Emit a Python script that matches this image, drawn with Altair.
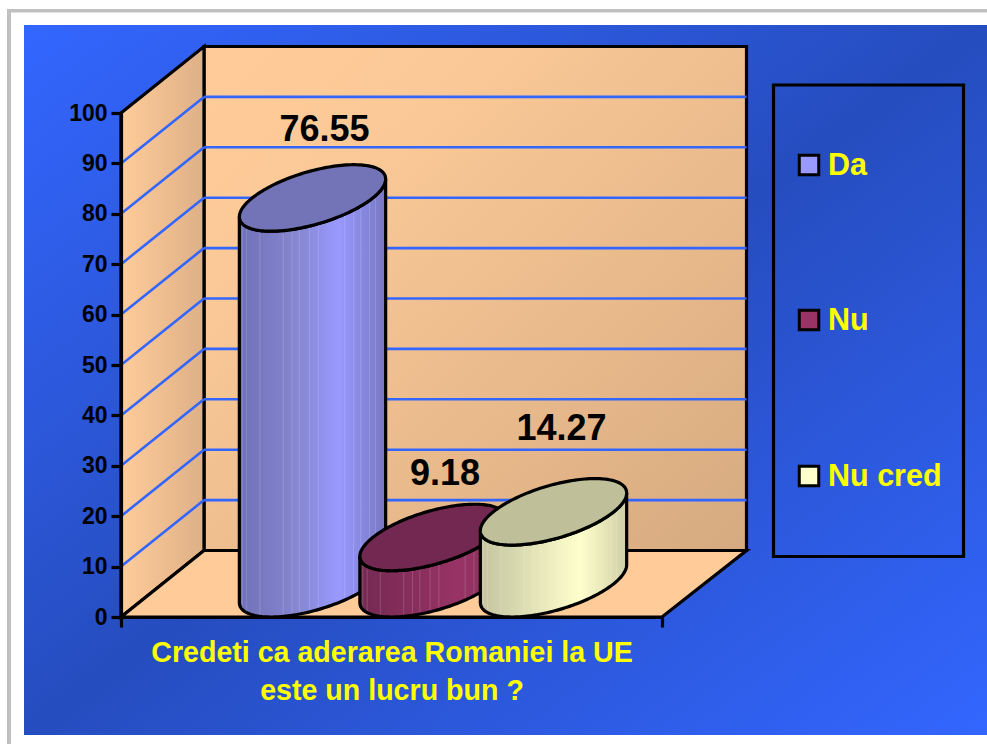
import numpy as np
import pandas as pd
import altair as alt

# Survey answers
categories = ["Da", "Nu", "Nu cred"]
values = [76.55, 9.18, 14.27]
value_labels = ["76.55", "9.18", "14.27"]
axis_title = ["Credeti ca aderarea Romaniei la UE", "este un lucru bun ?"]
y_ticks = list(range(0, 101, 10))

# Cylinder shading: cap colour, side gradient stops
cap_colors = ["#7373b8", "#722850", "#bfbf99"]
side_dark = ["#7171b8", "#742a52", "#c4c4a0"]
side_mid = ["#8585d0", "#882e5d", "#e4e4b8"]
side_light = ["#9999ff", "#993366", "#ffffcc"]
side_end = ["#7777c2", "#80305a", "#cfcfa6"]
swatch_colors = ["#9999ff", "#993366", "#ffffcc"]

# Facet seams on the cylinder sides, as fractions of the width
seams = [0.02, 0.05, 0.14, 0.30, 0.36, 0.41, 0.48, 0.54, 0.72, 0.78, 0.83, 0.89, 0.93]

# Label placement relative to each cylinder
label_shift_x = [12, 12, 8]
label_lift = [20.05, 19.2, 23.0]

# Plot geometry: the x scale is in pixels, the y scale in percent
PLOT_W, PLOT_H = 541, 504
LEFT, TOP = 121, 113
PX_PER_PCT = PLOT_H / 100
DEPTH_LEFT = 83
DEPTH_RIGHT = 84.5
DEPTH_Y = 66.5 / PX_PER_PCT
BAR_W = 120.5
STROKE = 3.2
FONT = "Liberation Sans"


def fx(px):
    return px - LEFT


def fy(py):
    return (TOP + PLOT_H - py) / PX_PER_PCT


x_scale = alt.Scale(domain=[0, PLOT_W], nice=False, zero=False)
y_scale = alt.Scale(domain=[0, 100], nice=False, zero=False)
x_axis = alt.Axis(
    values=[0, PLOT_W], labels=False, grid=False, zindex=1,
    domainColor="black", domainWidth=STROKE, tickColor="black",
    tickWidth=STROKE, tickSize=10, title=axis_title,
    titleColor="#ffff00", titleFont=FONT, titleFontSize=28.6,
    titleFontWeight="bold", titleLineHeight=38, titlePadding=10,
)
y_axis = alt.Axis(
    values=y_ticks, grid=False, zindex=1, title=None,
    domainColor="black", domainWidth=STROKE, tickColor="black",
    tickWidth=STROKE, tickSize=10, labelColor="black",
    labelFont=FONT, labelFontSize=23, labelFontWeight="bold",
    labelPadding=4,
)
X = alt.X("x:Q", scale=x_scale, axis=x_axis)
Y = alt.Y("y:Q", scale=y_scale, axis=y_axis)


def gradient(stops, x1=0, y1=0, x2=1, y2=0):
    return alt.Gradient(
        gradient="linear",
        stops=[alt.GradientStop(color=c, offset=o) for o, c in stops],
        x1=x1, y1=y1, x2=x2, y2=y2,
    )


def box(x0, x1, y0, y1):
    return pd.DataFrame({"x": [x0], "x1": [x1], "y": [y0], "y1": [y1]})


def rect_layer(frame, **mark):
    return alt.Chart(frame).mark_rect(**mark).encode(
        x=X, x2=alt.X2("x1:Q"), y=Y, y2=alt.Y2("y1:Q")
    )


def area_layer(frame, **mark):
    return alt.Chart(frame).mark_area(interpolate="linear", **mark).encode(
        x=X, y=Y, y2=alt.Y2("y1:Q")
    )


layers = []

# Slide background
layers.append(
    rect_layer(
        box(fx(24), fx(987), fy(25), fy(735)),
        fill=gradient([(0, "#3366ff"), (0.5, "#264dbf"), (1, "#3366ff")], 0, 0, 1, 1),
    )
)

# Slide frame
layers.append(rect_layer(box(fx(7), fx(11), fy(9), fy(744)), fill="#c0c0c0"))
layers.append(rect_layer(box(fx(7), fx(987), fy(9), fy(12.5)), fill="#c0c0c0"))

# Back wall
layers.append(
    rect_layer(
        box(DEPTH_LEFT, PLOT_W + DEPTH_RIGHT, DEPTH_Y, 100 + DEPTH_Y),
        fill=gradient([(0, "#ffcc99"), (0.25, "#fbc997"), (1, "#d6aa80")], 0, 0, 1, 1),
        stroke="black",
        strokeWidth=STROKE,
    )
)

# Side wall
side_wall = pd.DataFrame(
    {"x": [0, DEPTH_LEFT], "y": [100, 100 + DEPTH_Y], "y1": [0, DEPTH_Y]}
)
layers.append(
    area_layer(
        side_wall,
        fill=gradient([(0, "#ffcc99"), (1, "#deb087")]),
        stroke="black",
        strokeWidth=STROKE,
    )
)

# Floor
floor = pd.DataFrame(
    {
        "x": [0, DEPTH_LEFT, PLOT_W, PLOT_W + DEPTH_RIGHT],
        "y": [0, DEPTH_Y, DEPTH_Y, DEPTH_Y],
        "y1": [0, 0, 0, DEPTH_Y],
    }
)
layers.append(area_layer(floor, fill="#ffcc99", stroke="black", strokeWidth=STROKE))

# Gridlines on the back and side walls
grid_ticks = [t for t in y_ticks if 0 < t < 100]
grid_back = pd.DataFrame(
    {
        "x": [DEPTH_LEFT] * len(grid_ticks),
        "x1": [PLOT_W + DEPTH_RIGHT] * len(grid_ticks),
        "y": [t + DEPTH_Y for t in grid_ticks],
        "y1": [t + DEPTH_Y for t in grid_ticks],
    }
)
grid_side = pd.DataFrame(
    {
        "x": [0] * len(grid_ticks),
        "x1": [DEPTH_LEFT] * len(grid_ticks),
        "y": list(grid_ticks),
        "y1": [t + DEPTH_Y for t in grid_ticks],
    }
)
for frame in (grid_back, grid_side):
    layers.append(
        alt.Chart(frame)
        .mark_rule(color="#3366ff", strokeWidth=2.6)
        .encode(x=X, x2=alt.X2("x1:Q"), y=Y, y2=alt.Y2("y1:Q"))
    )

# Cylinders: the base circle is sheared along the floor's depth direction
SHEAR = 41.5
A = BAR_W / 2
R = np.hypot(A, SHEAR)
grid_t = np.linspace(np.pi, 0, 90)

for i, value in enumerate(values):
    center = PLOT_W / 2 + (i - 1) * BAR_W + SHEAR
    xs = center + R * np.cos(grid_t)
    dx = xs - center
    root = A * np.sqrt(np.clip(R**2 - dx**2, 0, None))
    s_back = (dx * SHEAR + root) / R**2
    s_front = (dx * SHEAR - root) / R**2
    mid = DEPTH_Y / 2
    body = pd.DataFrame(
        {"x": xs, "y": value + mid + mid * s_front, "y1": mid + mid * s_front}
    )
    cap = pd.DataFrame(
        {"x": xs, "y": value + mid + mid * s_back, "y1": value + mid + mid * s_front}
    )
    layers.append(
        area_layer(
            body,
            fill=gradient(
                [
                    (0, side_dark[i]),
                    (0.38, side_mid[i]),
                    (0.68, side_light[i]),
                    (1, side_end[i]),
                ]
            ),
        )
    )
    seam_x = xs[0] + np.array(seams) * (xs[-1] - xs[0])
    seam_low = np.interp(seam_x, xs, mid + mid * s_front)
    seam_frame = pd.DataFrame({"x": seam_x, "y": seam_low + value, "y1": seam_low})
    layers.append(
        alt.Chart(seam_frame)
        .mark_rule(color="white", strokeWidth=1, opacity=0.16)
        .encode(x=X, y=Y, y2=alt.Y2("y1:Q"))
    )
    layers.append(area_layer(body, fillOpacity=0, stroke="black", strokeWidth=STROKE))
    layers.append(
        area_layer(cap, fill=cap_colors[i], stroke="black", strokeWidth=STROKE)
    )

# Value labels
labels = pd.DataFrame(
    {
        "x": [
            PLOT_W / 2 + (i - 1) * BAR_W + SHEAR + label_shift_x[i]
            for i in range(len(values))
        ],
        "y": [v + lift for v, lift in zip(values, label_lift)],
        "text": value_labels,
    }
)
layers.append(
    alt.Chart(labels)
    .mark_text(font=FONT, fontSize=36, fontWeight="bold", color="black", baseline="middle")
    .encode(x=X, y=Y, text="text:N")
)

# Legend box with one swatch and label per answer
layers.append(
    rect_layer(
        box(fx(773.5), fx(963.5), fy(85), fy(556.5)),
        fillOpacity=0,
        stroke="black",
        strokeWidth=STROKE,
    )
)
legend_rows = [165, 320, 476]
legend = pd.DataFrame(
    {
        "x": [fx(809)] * 3,
        "lx": [fx(828)] * 3,
        "y": [fy(r) for r in legend_rows],
        "text": categories,
        "swatch": swatch_colors,
    }
)
layers.append(
    alt.Chart(legend)
    .mark_square(size=380, opacity=1, stroke="black", strokeWidth=3)
    .encode(x=X, y=Y, fill=alt.Fill("swatch:N", scale=None))
)
layers.append(
    alt.Chart(legend)
    .mark_text(
        font=FONT, fontSize=30.5, fontWeight="bold", color="#ffff00",
        align="left", baseline="middle", dy=1,
    )
    .encode(x=alt.X("lx:Q", scale=x_scale, axis=x_axis), y=Y, text="text:N")
)

chart = (
    alt.layer(*layers)
    .properties(
        width=PLOT_W,
        height=PLOT_H,
        autosize=alt.AutoSizeParams(type="none"),
        padding={"left": LEFT, "top": TOP, "right": 987 - LEFT - PLOT_W, "bottom": 744 - TOP - PLOT_H},
        background="white",
    )
    .configure_view(stroke=None)
)

chart.save("out.html", embed_options={"renderer": "svg", "actions": False})
